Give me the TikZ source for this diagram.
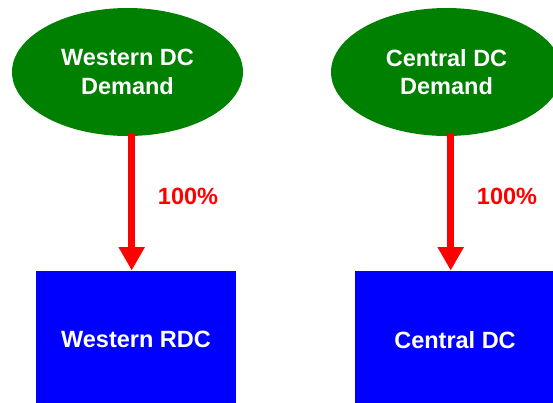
\documentclass[tikz,border=0pt]{standalone}
\usepackage{fontspec}
\setmainfont{Liberation Sans}
\usetikzlibrary{arrows.meta,shapes.geometric}
\definecolor{demandgreen}{RGB}{0,128,0}
\definecolor{dcblue}{RGB}{0,0,255}
\definecolor{flowred}{RGB}{255,0,0}
\begin{document}
\begin{tikzpicture}[x=1pt,y=-1pt,
  demand/.style={ellipse, fill=demandgreen, draw=none, minimum width=231pt, minimum height=128pt,
    inner sep=0pt, text=white, align=center, font=\bfseries\fontsize{23.5}{28.7}\selectfont},
  center/.style={rectangle, fill=dcblue, draw=none, minimum width=200pt, minimum height=138pt,
    inner sep=0pt, text=white, font=\bfseries\fontsize{23.5}{28.7}\selectfont},
  flow/.style={draw=flowred, line width=6.7pt, -{Triangle[length=23.4pt,width=24.7pt]}},
  share/.style={text=flowred, font=\bfseries\fontsize{23.5}{28.7}\selectfont, inner sep=0pt}]
  \useasboundingbox (0,0) rectangle (553,402);
  \begin{scope}
    \clip (0,0) rectangle (553,402);
    % demand ellipses
    \node[demand] (wd) at (127.5,72) {Western DC\\Demand};
    \node[demand] (cd) at (446.5,72) {Central DC\\Demand};
    % distribution centres
    \node[center] (wr) at (136,339.7) {Western RDC};
    \node[center] (cr) at (455,339.7) {Central DC};
    % flows
    \draw[flow] ([xshift=4.2pt,yshift=3pt]wd.south) -- ([xshift=-4.3pt]wr.north);
    \draw[flow] ([xshift=4.2pt,yshift=3pt]cd.south) -- ([xshift=-4.3pt]cr.north);
    \node[share] (wl) at (188,196.5) {100\%};
    \node[share] (cl) at (507,196.5) {100\%};
  \end{scope}
\end{tikzpicture}
\end{document}
